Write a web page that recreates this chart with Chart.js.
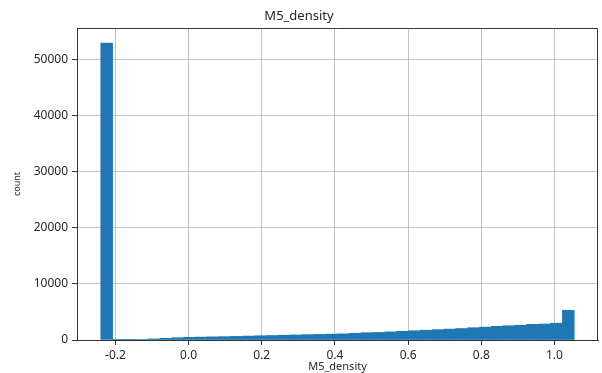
<!DOCTYPE html>
<html>
<head>
<meta charset="utf-8">
<script src="https://cdn.jsdelivr.net/npm/chart.js@4.4.1/dist/chart.umd.min.js"></script>
<style>
    html, body { margin: 0; padding: 0; background: #fff; }
    #wrap { width: 602px; height: 373px; }
</style>
</head>
<body>
<div id="wrap"><canvas id="histChart" width="602" height="373"></canvas></div>
<script>
// Histogram of M5_density: 40 equal bins from -0.24 to ~1.054
const binStart = -0.24;
const binWidth = 0.03235;
const counts = [
    53000, 30, 50, 100, 200, 300, 400, 480, 520, 560,
    600, 640, 700, 760, 800, 850, 900, 950, 1000, 1050,
    1100, 1200, 1300, 1350, 1450, 1550, 1650, 1750, 1850, 1950,
    2050, 2200, 2300, 2450, 2550, 2650, 2800, 2850, 3000, 5300
];
const xTicks = [-0.2, 0.0, 0.2, 0.4, 0.6, 0.8, 1.0];
const yTicks = [0, 10000, 20000, 30000, 40000, 50000];

const fontFamily = "'Noto Sans', 'Open Sans', sans-serif";
const textColor = '#262626';
const gridColor = 'rgba(176, 176, 176, 0.75)';

// histogram bins sit at their centres on a linear axis
const points = counts.map((c, i) => ({ x: binStart + (i + 0.5) * binWidth, y: c }));

// top and right spines (matplotlib style frame)
const framePlugin = {
    id: 'frame',
    afterDraw(chart) {
        const { ctx, chartArea: a } = chart;
        ctx.save();
        ctx.strokeStyle = '#333';
        ctx.lineWidth = 1;
        ctx.beginPath();
        ctx.moveTo(a.left, a.top + 0.5);
        ctx.lineTo(a.right - 0.5, a.top + 0.5);
        ctx.lineTo(a.right - 0.5, a.bottom);
        ctx.stroke();
        ctx.restore();
    }
};

new Chart(document.getElementById('histChart'), {
    type: 'bar',
    data: {
        datasets: [{
            data: points,
            backgroundColor: '#1f77b4',
            borderWidth: 0,
            barPercentage: 1,
            categoryPercentage: 1
        }]
    },
    options: {
        responsive: false,
        animation: false,
        layout: { padding: { left: 0, right: 4, top: 0, bottom: 0 } },
        plugins: {
            legend: { display: false },
            tooltip: { enabled: false },
            title: {
                display: true,
                text: 'M5_density',
                color: textColor,
                font: { family: fontFamily, size: 13, weight: 'normal' },
                padding: { top: 8, bottom: 4.4 }
            }
        },
        scales: {
            x: {
                type: 'linear',
                min: -0.305,
                max: 1.119,
                offset: false,
                z: 1,
                afterBuildTicks: s => { s.ticks = xTicks.map(v => ({ value: v })); },
                afterFit: s => { s.height = 33; },
                ticks: {
                    callback: v => v.toFixed(1),
                    color: textColor,
                    font: { family: fontFamily, size: 12 },
                    padding: 3,
                    maxRotation: 0,
                    autoSkip: false
                },
                grid: { color: gridColor, tickColor: '#333', tickLength: 5, offset: false },
                border: { display: true, color: '#333' },
                title: {
                    display: true,
                    text: 'M5_density',
                    color: textColor,
                    font: { family: fontFamily, size: 11 },
                    padding: { top: 0, bottom: 0 }
                }
            },
            y: {
                min: 0,
                max: 55700,
                z: 1,
                afterBuildTicks: s => { s.ticks = yTicks.map(v => ({ value: v })); },
                afterFit: s => { s.width = 77; },
                ticks: {
                    callback: v => String(v),
                    color: textColor,
                    font: { family: fontFamily, size: 12 },
                    padding: 4
                },
                grid: { color: gridColor, tickColor: '#333', tickLength: 5 },
                border: { display: true, color: '#333' },
                title: {
                    display: true,
                    text: 'count',
                    color: textColor,
                    font: { family: fontFamily, size: 9 },
                    padding: { top: 12, bottom: 0 }
                }
            }
        }
    },
    plugins: [framePlugin]
});
</script>
</body>
</html>
